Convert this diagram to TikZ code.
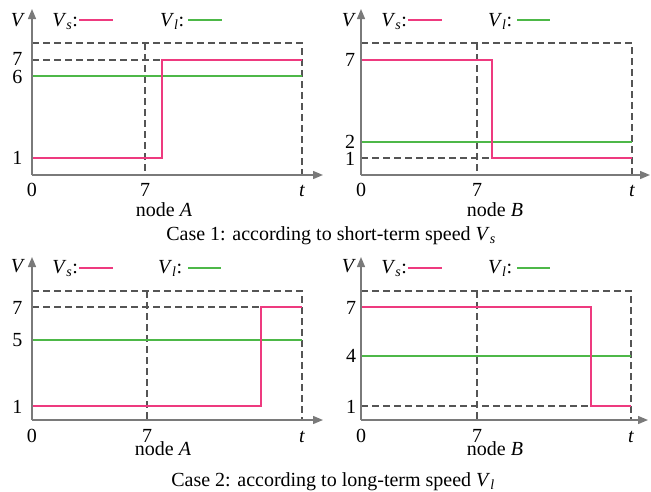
\documentclass[tikz,border=0pt]{standalone}
\usepackage{fontspec}
\setmainfont{Liberation Serif}
\usetikzlibrary{arrows.meta}
\definecolor{vspink}{HTML}{EE3A7F}
\definecolor{vlgreen}{HTML}{4DB848}
\definecolor{axisgray}{HTML}{7A7A7A}
\definecolor{dashgray}{HTML}{555555}
\newcommand{\Vsl}{\textit{V}\textsubscript{\textit{s}}}
\newcommand{\Vll}{\textit{V}\textsubscript{\textit{l}}}
\begin{document}
\begin{tikzpicture}[x=1pt,y=1pt,
  every node/.style={inner sep=0pt,outer sep=0pt,font=\fontsize{20}{24}\selectfont},
  axisline/.style={draw=axisgray,line width=1.4pt,-{Triangle[length=10pt,width=8pt]}},
  guide/.style={draw=dashgray,line width=1.2pt,dash pattern=on 7pt off 4pt},
  vsline/.style={draw=vspink,line width=1.6pt},
  vlline/.style={draw=vlgreen,line width=1.6pt},
  lbl/.style={anchor=center},
  blbl/.style={anchor=base}]
\useasboundingbox (0,0) rectangle (651,-491);

% ---------------- Panel 1 (top left) ----------------
\draw[guide] (32,-43) -- (302,-43) -- (302,-175);
\draw[guide] (145,-43) -- (145,-175);
\draw[guide] (32,-60) -- (162,-60);
\draw[vlline] (32,-76) -- (302,-76);
\draw[vsline] (32,-158) -- (162,-158) -- (162,-60) -- (302,-60);
\draw[axisline] (32,-175) -- (32,-9);
\draw[axisline] (32,-175) -- (323,-175);
\node[lbl] (p1V) at (18,-20) {\textit{V}};
\node[anchor=base east] (p1s) at (78,-26.7) {\Vsl:};
\draw[vsline] (79,-20) -- (113,-20);
\node[anchor=base west] (p1l) at (160,-26.7) {\Vll:};
\draw[vlline] (188,-20) -- (222,-20);
\node[lbl] (p1y7) at (17.5,-59) {7};
\node[lbl] (p1y6) at (17.5,-77) {6};
\node[lbl] (p1y1) at (17.5,-158) {1};
\node[blbl] (p1x0) at (32,-196.5) {0};
\node[blbl] (p1x7) at (145,-196.5) {7};
\node[blbl] (p1xt) at (302,-196.5) {\textit{t}};
\node[blbl] (p1n) at (164,-216.5) {node \textit{A}};

% ---------------- Panel 2 (top right) ----------------
\draw[guide] (361,-43) -- (632,-43) -- (632,-175);
\draw[guide] (477,-43) -- (477,-175);
\draw[guide] (361,-158) -- (492,-158);
\draw[vlline] (361,-142) -- (632,-142);
\draw[vsline] (361,-60) -- (492,-60) -- (492,-158) -- (632,-158);
\draw[axisline] (361,-175) -- (361,-9);
\draw[axisline] (361,-175) -- (650,-175);
\node[lbl] (p2V) at (349,-20) {\textit{V}};
\node[anchor=base east] (p2s) at (407,-26.7) {\Vsl:};
\draw[vsline] (408,-20) -- (442,-20);
\node[anchor=base west] (p2l) at (488,-26.7) {\Vll:};
\draw[vlline] (517,-20) -- (550,-20);
\node[lbl] (p2y7) at (350,-60) {7};
\node[lbl] (p2y2) at (350,-141.5) {2};
\node[lbl] (p2y1) at (350,-158.5) {1};
\node[blbl] (p2x0) at (361,-196.5) {0};
\node[blbl] (p2x7) at (477,-196.5) {7};
\node[blbl] (p2xt) at (632,-196.5) {\textit{t}};
\node[blbl] (p2n) at (495,-216.5) {node \textit{B}};

\node[blbl] (cap1) at (331,-240) {Case 1: according to short-term speed \Vsl};

% ---------------- Panel 3 (bottom left) ----------------
\draw[guide] (32,-291) -- (302,-291) -- (302,-420);
\draw[guide] (147,-291) -- (147,-420);
\draw[guide] (32,-307) -- (261,-307);
\draw[vlline] (32,-340) -- (302,-340);
\draw[vsline] (32,-406) -- (261,-406) -- (261,-307) -- (302,-307);
\draw[axisline] (32,-420) -- (32,-257);
\draw[axisline] (32,-420) -- (323,-420);
\node[lbl] (p3V) at (18,-266.5) {\textit{V}};
\node[anchor=base east] (p3s) at (78,-273) {\Vsl:};
\draw[vsline] (79,-268) -- (113,-268);
\node[anchor=base west] (p3l) at (158,-273) {\Vll:};
\draw[vlline] (188,-268) -- (221,-268);
\node[lbl] (p3y7) at (17.5,-307.5) {7};
\node[lbl] (p3y5) at (17.5,-340.5) {5};
\node[lbl] (p3y1) at (17.5,-406.5) {1};
\node[blbl] (p3x0) at (32,-442) {0};
\node[blbl] (p3x7) at (147,-442) {7};
\node[blbl] (p3xt) at (302,-442) {\textit{t}};
\node[blbl] (p3n) at (163,-455) {node \textit{A}};

% ---------------- Panel 4 (bottom right) ----------------
\draw[guide] (361,-291) -- (631,-291) -- (631,-420);
\draw[guide] (477,-291) -- (477,-420);
\draw[guide] (361,-406) -- (591,-406);
\draw[vlline] (361,-356) -- (631,-356);
\draw[vsline] (361,-307) -- (591,-307) -- (591,-406) -- (631,-406);
\draw[axisline] (361,-420) -- (361,-257);
\draw[axisline] (361,-420) -- (648,-420);
\node[lbl] (p4V) at (349,-266.5) {\textit{V}};
\node[anchor=base east] (p4s) at (407,-273) {\Vsl:};
\draw[vsline] (408,-268) -- (442,-268);
\node[anchor=base west] (p4l) at (488,-273) {\Vll:};
\draw[vlline] (517,-268) -- (550,-268);
\node[lbl] (p4y7) at (351,-307.5) {7};
\node[lbl] (p4y4) at (351,-356) {4};
\node[lbl] (p4y1) at (351,-406.5) {1};
\node[blbl] (p4x0) at (361,-442) {0};
\node[blbl] (p4x7) at (477,-442) {7};
\node[blbl] (p4xt) at (631,-442) {\textit{t}};
\node[blbl] (p4n) at (495,-455) {node \textit{B}};

\node[blbl] (cap2) at (333,-486.5) {Case 2: according to long-term speed \Vll};
\end{tikzpicture}
\end{document}
